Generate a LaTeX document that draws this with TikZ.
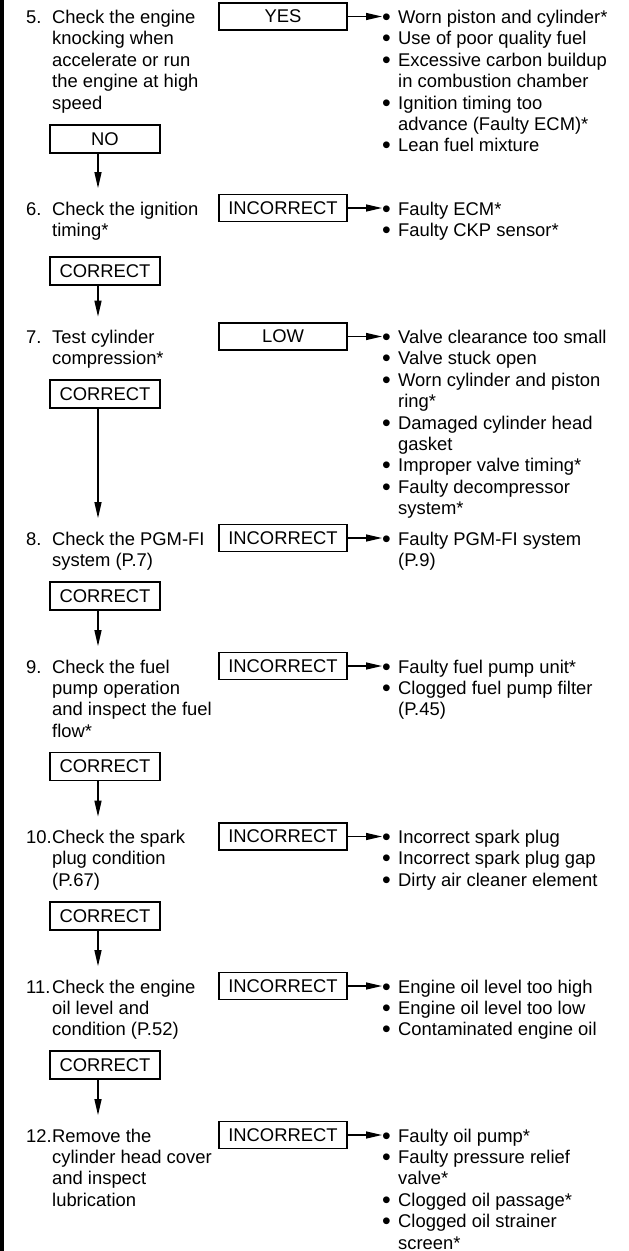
\documentclass[tikz,border=0pt]{standalone}
\usepackage{fontspec}
\setmainfont{Liberation Sans}
\usetikzlibrary{arrows.meta}

\newcommand{\stepnum}[1]{\makebox[26pt][l]{#1}}
\newcommand{\stepind}{\hspace*{26pt}}
\newcommand{\bitem}{\makebox[16pt][l]{\raisebox{-0.11em}{\scalebox{1.35}{•}}}}
\newcommand{\bcont}{\hspace*{16pt}}

\begin{document}
\begin{tikzpicture}[x=1pt,y=-1pt,
    every node/.style={font=\fontsize{18.4}{21.4}\selectfont},
    check/.style={anchor=base west,align=left,inner sep=0pt,outer ysep=13.5pt},
    cause/.style={anchor=base west,align=left,inner sep=0pt},
    answer/.style={draw,line width=1.5pt,minimum width=128pt,minimum height=27pt,inner sep=0pt},
    pass/.style={draw,line width=1.5pt,minimum width=110pt,minimum height=28pt,inner sep=0pt},
    arr/.style={line width=1.3pt,-{Triangle[length=16pt,width=7pt]}}]
    \useasboundingbox (0,0) rectangle (629,1251);
    \draw[line width=3.5pt](1.75,0)--(1.75,1251);

    % step 5 (base anchor = last line, so add the lines above it)
    \node[check](s5)at(26,{23.5+4*21.4}){\stepnum{5.}Check the engine\\\stepind knocking when\\\stepind accelerate or run\\\stepind the engine at high\\\stepind speed};
    \node[answer](a5)at(283,16.5){YES};
    \node[cause](c5)at(382,{23.5+6*21.4}){\bitem Worn piston and cylinder*\\\bitem Use of poor quality fuel\\\bitem Excessive carbon buildup\\\bcont in combustion chamber\\\bitem Ignition timing too\\\bcont advance (Faulty ECM)*\\\bitem Lean fuel mixture};
    \node[pass](p5)at(105,139){NO};

    % step 6
    \node[check](s6)at(26,{215+21.4}){\stepnum{6.}Check the ignition\\\stepind timing*};
    \node[answer](a6)at(283,208){INCORRECT};
    \node[cause](c6)at(382,{215+21.4}){\bitem Faulty ECM*\\\bitem Faulty CKP sensor*};
    \node[pass](p6)at(105,271){CORRECT};

    % step 7
    \node[check](s7)at(26,{343.5+21.4}){\stepnum{7.}Test cylinder\\\stepind compression*};
    \node[answer](a7)at(283,336.5){LOW};
    \node[cause](c7)at(382,{343.5+8*21.4}){\bitem Valve clearance too small\\\bitem Valve stuck open\\\bitem Worn cylinder and piston\\\bcont ring*\\\bitem Damaged cylinder head\\\bcont gasket\\\bitem Improper valve timing*\\\bitem Faulty decompressor\\\bcont system*};
    \node[pass](p7)at(105,394){CORRECT};

    % step 8
    \node[check](s8)at(26,{545+21.4}){\stepnum{8.}Check the PGM-FI\\\stepind system (P.7)};
    \node[answer](a8)at(283,538){INCORRECT};
    \node[cause](c8)at(382,{545+21.4}){\bitem Faulty PGM-FI system\\\bcont (P.9)};
    \node[pass](p8)at(105,596){CORRECT};

    % step 9
    \node[check](s9)at(26,{673+3*21.4}){\stepnum{9.}Check the fuel\\\stepind pump operation\\\stepind and inspect the fuel\\\stepind flow*};
    \node[answer](a9)at(283,666){INCORRECT};
    \node[cause](c9)at(382,{673+2*21.4}){\bitem Faulty fuel pump unit*\\\bitem Clogged fuel pump filter\\\bcont (P.45)};
    \node[pass](p9)at(105,766.5){CORRECT};

    % step 10
    \node[check](s10)at(26,{843.5+2*21.4}){\stepnum{10.}Check the spark\\\stepind plug condition\\\stepind (P.67)};
    \node[answer](a10)at(283,836.5){INCORRECT};
    \node[cause](c10)at(382,{843.5+2*21.4}){\bitem Incorrect spark plug\\\bitem Incorrect spark plug gap\\\bitem Dirty air cleaner element};
    \node[pass](p10)at(105,916){CORRECT};

    % step 11
    \node[check](s11)at(26,{993+2*21.4}){\stepnum{11.}Check the engine\\\stepind oil level and\\\stepind condition (P.52)};
    \node[answer](a11)at(283,986){INCORRECT};
    \node[cause](c11)at(382,{993+2*21.4}){\bitem Engine oil level too high\\\bitem Engine oil level too low\\\bitem Contaminated engine oil};
    \node[pass](p11)at(105,1065){CORRECT};

    % step 12
    \node[check](s12)at(26,{1142+3*21.4}){\stepnum{12.}Remove the\\\stepind cylinder head cover\\\stepind and inspect\\\stepind lubrication};
    \node[answer](a12)at(283,1135){INCORRECT};
    \node[cause](c12)at(382,{1142+5*21.4}){\bitem Faulty oil pump*\\\bitem Faulty pressure relief\\\bcont valve*\\\bitem Clogged oil passage*\\\bitem Clogged oil strainer\\\bcont screen*};

    % answer to causes
    \draw[arr](a5.east)--(a5.east-|c5.west);
    \draw[arr](a6.east)--(a6.east-|c6.west);
    \draw[arr](a7.east)--(a7.east-|c7.west);
    \draw[arr](a8.east)--(a8.east-|c8.west);
    \draw[arr](a9.east)--(a9.east-|c9.west);
    \draw[arr](a10.east)--(a10.east-|c10.west);
    \draw[arr](a11.east)--(a11.east-|c11.west);
    \draw[arr](a12.east)--(a12.east-|c12.west);

    % pass to next step
    \draw[arr]([xshift=-7pt]p5.south)--([xshift=-7pt]p5.south|-s6.north);
    \draw[arr]([xshift=-7pt]p6.south)--([xshift=-7pt]p6.south|-s7.north);
    \draw[arr]([xshift=-7pt]p7.south)--([xshift=-7pt]p7.south|-s8.north);
    \draw[arr]([xshift=-7pt]p8.south)--([xshift=-7pt]p8.south|-s9.north);
    \draw[arr]([xshift=-7pt]p9.south)--([xshift=-7pt]p9.south|-s10.north);
    \draw[arr]([xshift=-7pt]p10.south)--([xshift=-7pt]p10.south|-s11.north);
    \draw[arr]([xshift=-7pt]p11.south)--([xshift=-7pt]p11.south|-s12.north);
\end{tikzpicture}
\end{document}
